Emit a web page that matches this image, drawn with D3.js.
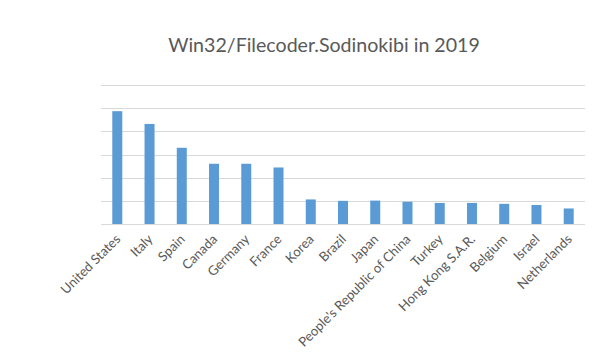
<!DOCTYPE html>
<html>
<head>
<meta charset="utf-8">
<script src="https://cdn.jsdelivr.net/npm/d3@7"></script>
<style>
  body { margin: 0; background: #fff; }
  svg { display: block; }
</style>
</head>
<body>
<div id="chart"></div>
<script>
// Data (units of one gridline step)
const countries = ['United States', 'Italy', 'Spain', 'Canada', 'Germany', 'France', 'Korea', 'Brazil',
    'Japan', "People's Republic of China", 'Turkey', 'Hong Kong S.A.R.', 'Belgium', 'Israel', 'Netherlands'];
const shares = [4.87, 4.32, 3.29, 2.6, 2.6, 2.44, 1.06, 1.0, 1.01, 0.96, 0.91, 0.91, 0.87, 0.82, 0.67];
const gridTicks = [0, 1, 2, 3, 4, 5, 6];

const width = 600, height = 358;
const margin = { top: 85, right: 15, bottom: 134, left: 101 };

const svg = d3.select('#chart')
    .append('svg')
    .attr('width', width)
    .attr('height', height);

const x = d3.scaleBand()
    .domain(countries)
    .range([margin.left, width - margin.right])
    .paddingInner(0.69)
    .paddingOuter(0.35);

const y = d3.scaleLinear()
    .domain([0, 6])
    .range([height - margin.bottom, margin.top]);

// Title
svg.append('text')
    .attr('x', 324)
    .attr('y', 52)
    .attr('text-anchor', 'middle')
    .attr('font-family', 'Lato, "Open Sans", sans-serif')
    .attr('font-size', 19.6)
    .attr('fill', '#595959')
    .text('Win32/Filecoder.Sodinokibi in 2019');

// Gridlines
svg.append('g')
    .selectAll('line')
    .data(gridTicks)
    .join('line')
    .attr('x1', margin.left)
    .attr('x2', width - margin.right)
    .attr('y1', d => Math.round(y(d)) + 0.5)
    .attr('y2', d => Math.round(y(d)) + 0.5)
    .attr('stroke', '#d9d9d9')
    .attr('stroke-width', 1);

// Bars
svg.append('g')
    .selectAll('rect')
    .data(countries)
    .join('rect')
    .attr('x', d => x(d))
    .attr('y', (d, i) => y(shares[i]))
    .attr('width', x.bandwidth())
    .attr('height', (d, i) => y(0) - y(shares[i]))
    .attr('fill', '#5b9bd5');

// X axis labels, rotated
const xAxis = d3.axisBottom(x).tickSize(0).tickPadding(0);
const axisG = svg.append('g')
    .attr('transform', `translate(0,${y(0)})`)
    .call(xAxis);
axisG.select('.domain').remove();
axisG.selectAll('text')
    .attr('font-family', 'Lato, "Open Sans", sans-serif')
    .attr('font-size', 13.2)
    .attr('fill', '#595959')
    .attr('text-anchor', 'end')
    .attr('dy', 0)
    .attr('y', 0)
    .attr('transform', 'translate(4,16) rotate(-45)');
</script>
</body>
</html>
